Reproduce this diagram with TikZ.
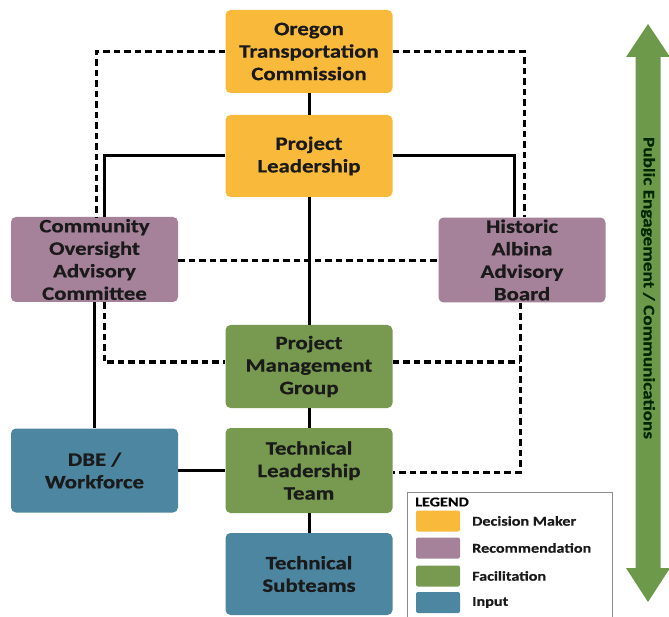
\documentclass[tikz,border=0pt]{standalone}
\usepackage{fontspec}
\setmainfont{Carlito}[FakeStretch=1.2, BoldFeatures={FakeBold=0.6}]
\definecolor{cOrange}{HTML}{F9BA3C}
\definecolor{cPurple}{HTML}{A5819A}
\definecolor{cGreen}{HTML}{789A50}
\definecolor{cBlue}{HTML}{4D86A0}
\definecolor{cArrow}{HTML}{6C9A4A}
\definecolor{cText}{HTML}{1A1A1A}
\tikzset{
  orgbox/.style={rounded corners=5pt, minimum width=167pt, inner sep=2pt,
    align=center, text=cText, font=\bfseries\fontsize{19}{22.5}\selectfont},
  solidline/.style={line width=3pt, draw=black},
  dashline/.style={line width=3pt, draw=black, dash pattern=on 6.5pt off 4pt},
  swatch/.style={rounded corners=2pt, minimum width=44pt, minimum height=21pt, inner sep=0pt},
  legtext/.style={anchor=west, inner sep=0pt, text=cText, font=\bfseries\fontsize{13.5}{15}\selectfont}
}
\begin{document}
\begin{tikzpicture}[x=1pt,y=-1pt]
\useasboundingbox (0,0) rectangle (669,617);
% boxes
\node[orgbox, fill=cOrange, minimum height=83pt] (otc) at (309,51.5) {Oregon\\Transportation\\Commission};
\node[orgbox, fill=cOrange, minimum height=82pt] (pl) at (309,156) {Project\\Leadership};
\node[orgbox, fill=cPurple, minimum height=85pt] (coac) at (94.5,259.5) {Community\\Oversight\\Advisory\\Committee};
\node[orgbox, fill=cPurple, minimum height=84pt] (haab) at (522,260) {Historic\\Albina\\Advisory\\Board};
\node[orgbox, fill=cGreen, minimum height=83pt] (pmg) at (309,366.5) {Project\\Management\\Group};
\node[orgbox, fill=cGreen, minimum height=85pt] (tlt) at (309,470.5) {Technical\\Leadership\\Team};
\node[orgbox, fill=cBlue, minimum height=84pt] (dbe) at (94.5,470.5) {DBE /\\Workforce};
\node[orgbox, fill=cBlue, minimum height=82pt] (ts) at (309,574) {Technical\\Subteams};
% helper coordinates
\coordinate (otcL) at (96,52);
\coordinate (otcR) at (524,52);
\coordinate (coacD) at (104,362);
\coordinate (haabD) at (520,472);
% solid connectors
\draw[solidline] (otc.south) -- (pl.north);
\draw[solidline] (pl.west) -| ([xshift=9.5pt]coac.north);
\draw[solidline] (pl.east) -| ([xshift=-8pt]haab.north);
\draw[solidline] (pl.south) -- (pmg.north);
\draw[solidline] (coac.south) -- (dbe.north);
\draw[solidline] (dbe.east) -- (tlt.west);
\draw[solidline] (pmg.south) -- (tlt.north);
\draw[solidline] (tlt.south) -- (ts.north);
% dashed connectors
\draw[dashline] (otc.west |- otcL) -- (otcL) -- (otcL |- coac.north);
\draw[dashline] (otc.east |- otcR) -- (otcR) -- (otcR |- haab.north);
\draw[dashline] ([yshift=-1.5pt]coac.east) -- ([yshift=-1.5pt]coac.east -| haab.west);
\draw[dashline] (coacD |- coac.south) -- (coacD) -- (coacD -| pmg.west);
\draw[dashline] (haabD |- haab.south) -- (haabD) -- (haabD -| tlt.east);
\draw[dashline] (pmg.east |- coacD) -- (coacD -| haabD);
% legend
\node[draw=black!45, line width=0.8pt, minimum width=205pt, minimum height=130pt, inner sep=0pt] (leg) at (509.5,557) {};
\node[anchor=west, inner sep=0pt, text=black, font=\bfseries\fontsize{13.5}{15}\selectfont] (legt) at (415,502) {LEGEND};
\node[swatch, fill=cOrange] (s1) at (438,521) {};
\node[swatch, fill=cPurple] (s2) at (438,548) {};
\node[swatch, fill=cGreen] (s3) at (438,576) {};
\node[swatch, fill=cBlue] (s4) at (438,602.5) {};
\node[legtext] (l1) at (472,521) {Decision Maker};
\node[legtext] (l2) at (472,548) {Recommendation};
\node[legtext] (l3) at (472,576) {Facilitation};
\node[legtext] (l4) at (472,602.5) {Input};
% double arrow
\fill[cArrow] (648,24) -- (670,57) -- (660.5,57) -- (660.5,568) -- (670,568) -- (648,602)
  -- (626,568) -- (635.5,568) -- (635.5,57) -- (626,57) -- cycle;
\node[rotate=-90, inner sep=0pt, text=black!85!green, font=\bfseries\fontsize{16}{18}\selectfont] (pe) at (648,288) {Public Engagement / Communications};
\end{tikzpicture}
\end{document}
